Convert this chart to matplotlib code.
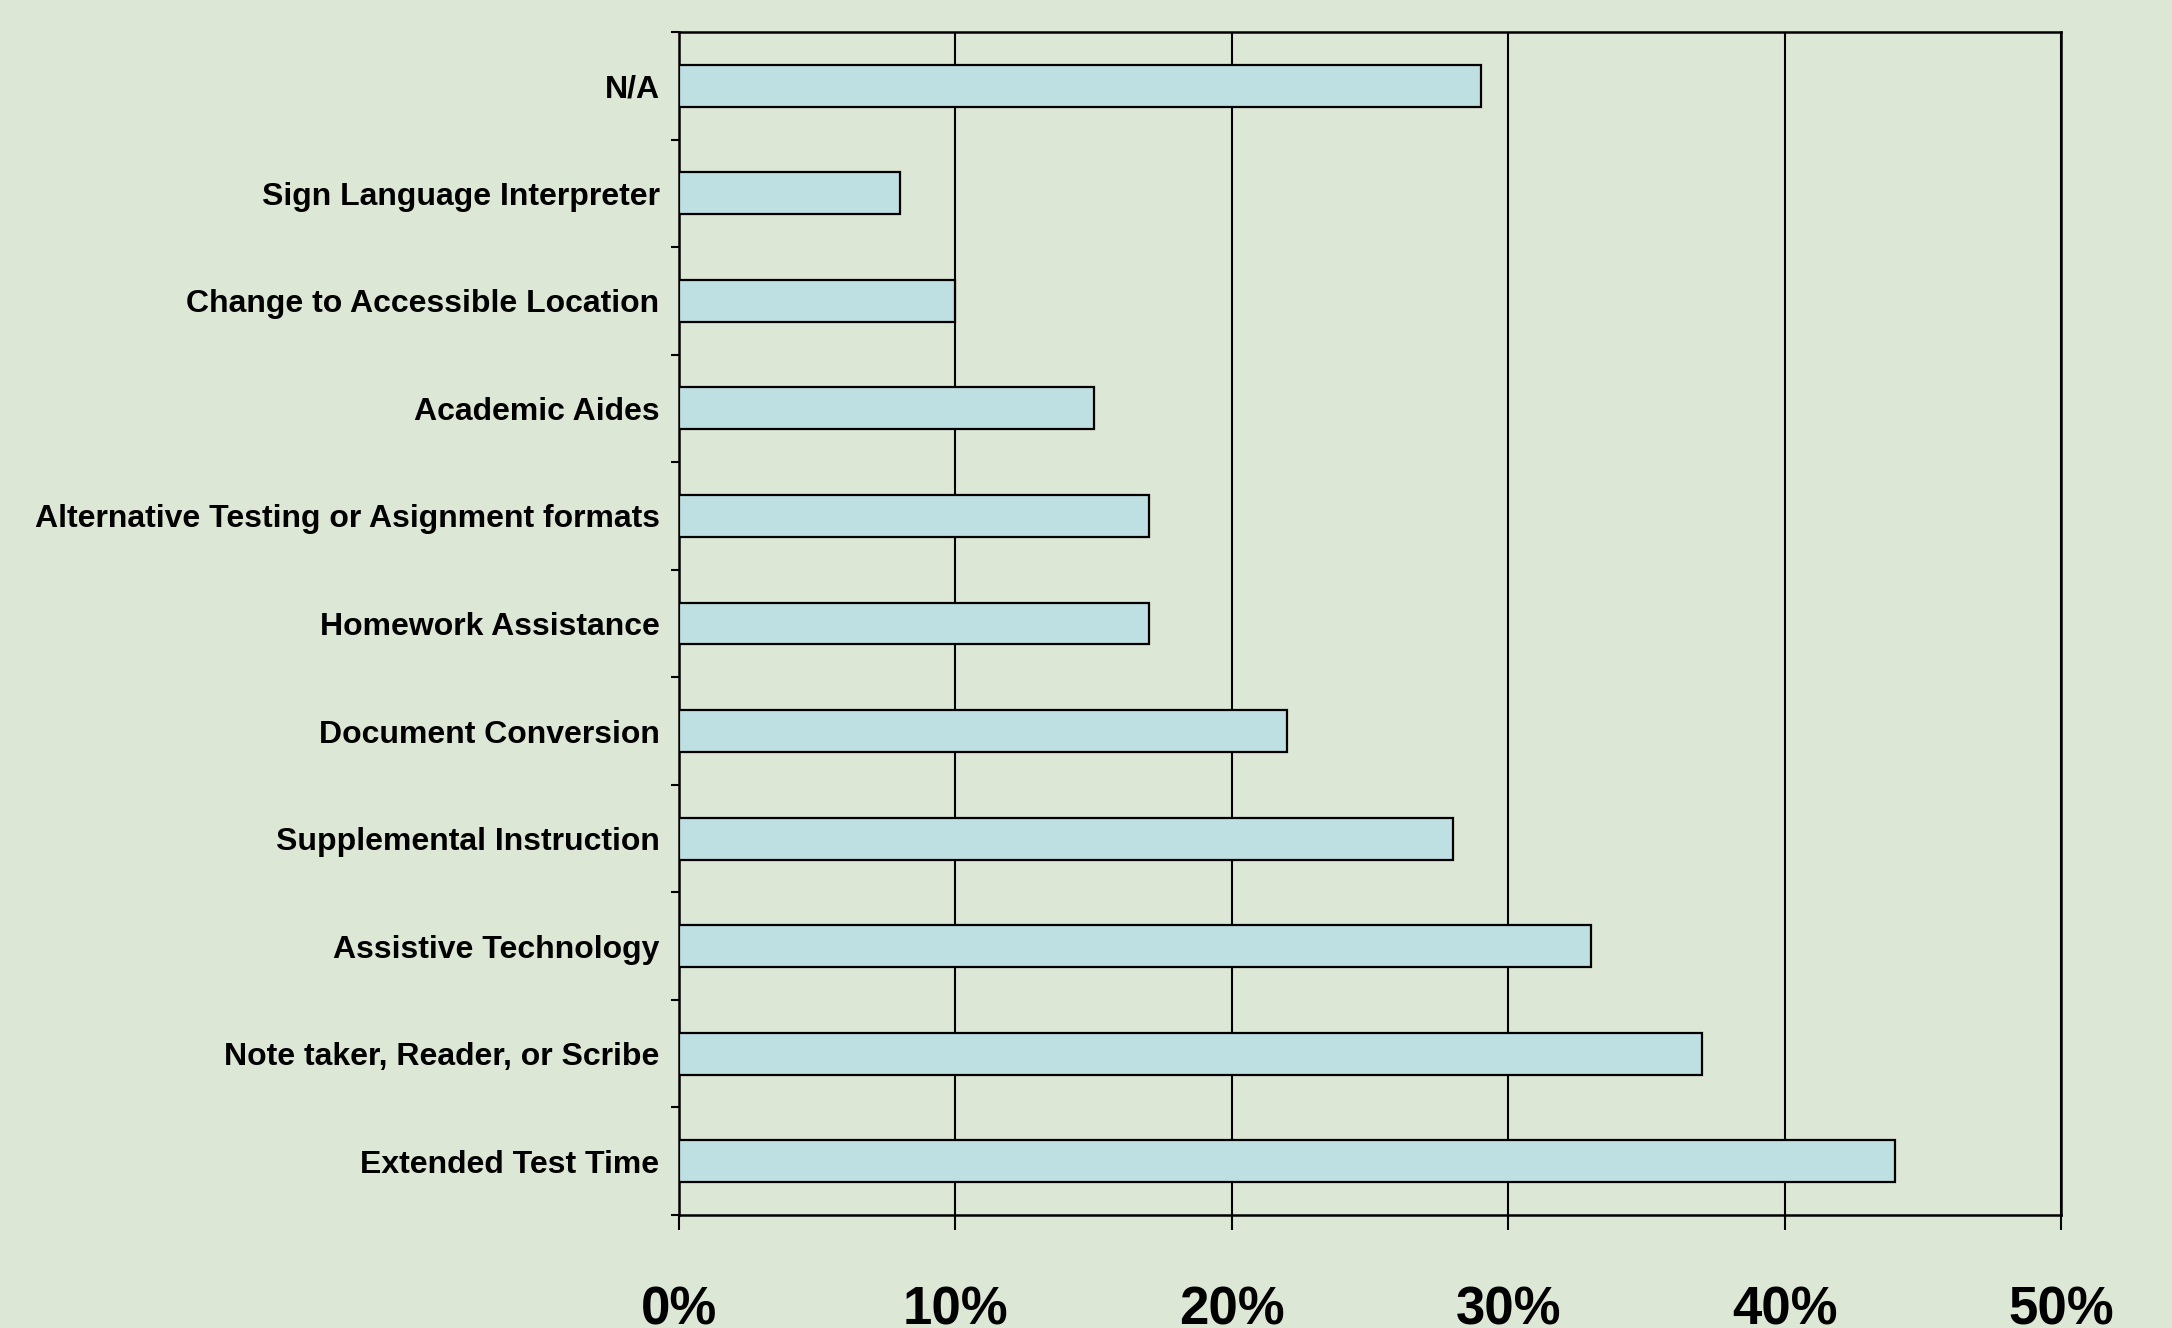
import numpy as np
import matplotlib
matplotlib.use("Agg")
import matplotlib.pyplot as plt
from matplotlib.ticker import FixedLocator, PercentFormatter

# ----------------------------
# Data (bottom to top)
# ----------------------------

categories = [
    "Extended Test Time",
    "Note taker, Reader, or Scribe",
    "Assistive Technology",
    "Supplemental Instruction",
    "Document Conversion",
    "Homework Assistance",
    "Alternative Testing or Asignment formats",
    "Academic Aides",
    "Change to Accessible Location",
    "Sign Language Interpreter",
    "N/A",
]
percent = [44, 37, 33, 28, 22, 17, 17, 15, 10, 8, 29]
x_ticks = [0, 10, 20, 30, 40, 50]

# ----------------------------
# Style
# ----------------------------

plt.rcParams["font.family"] = ["Liberation Sans Narrow", "Liberation Sans", "DejaVu Sans"]
plt.rcParams["font.weight"] = "bold"

bg = "#dde7d5"
bar_color = "#bee0e3"

fig = plt.figure(figsize=(21.72, 13.28), dpi=100, facecolor=bg)
ax = fig.add_axes([0.3126, 0.0851, 0.6363, 0.8908], facecolor=bg)

y = np.arange(len(categories))
ax.barh(y, percent, height=0.39, color=bar_color, edgecolor="black",
        linewidth=1.6, zorder=3)

ax.set_xlim(0, 50)
ax.set_ylim(-0.5, len(categories) - 0.5)

ax.set_xticks(x_ticks)
ax.xaxis.set_major_formatter(PercentFormatter(decimals=0))
ax.grid(axis="x", color="black", linewidth=1.5, zorder=1)
ax.tick_params(axis="x", direction="out", length=11, width=1.5,
               labelsize=38, pad=40)

ax.set_yticks(y)
ax.set_yticklabels(categories)
ax.yaxis.set_minor_locator(FixedLocator(np.arange(-0.5, len(categories), 1.0)))
ax.tick_params(axis="y", which="major", length=0, labelsize=23, pad=14)
ax.tick_params(axis="y", which="minor", direction="out", length=6, width=1.5)

for lab in ax.get_xticklabels() + ax.get_yticklabels():
    lab.set_fontweight("bold")

for s in ax.spines.values():
    s.set_linewidth(1.8)
    s.set_color("black")

fig.savefig("out.png", dpi=100, facecolor=bg)
